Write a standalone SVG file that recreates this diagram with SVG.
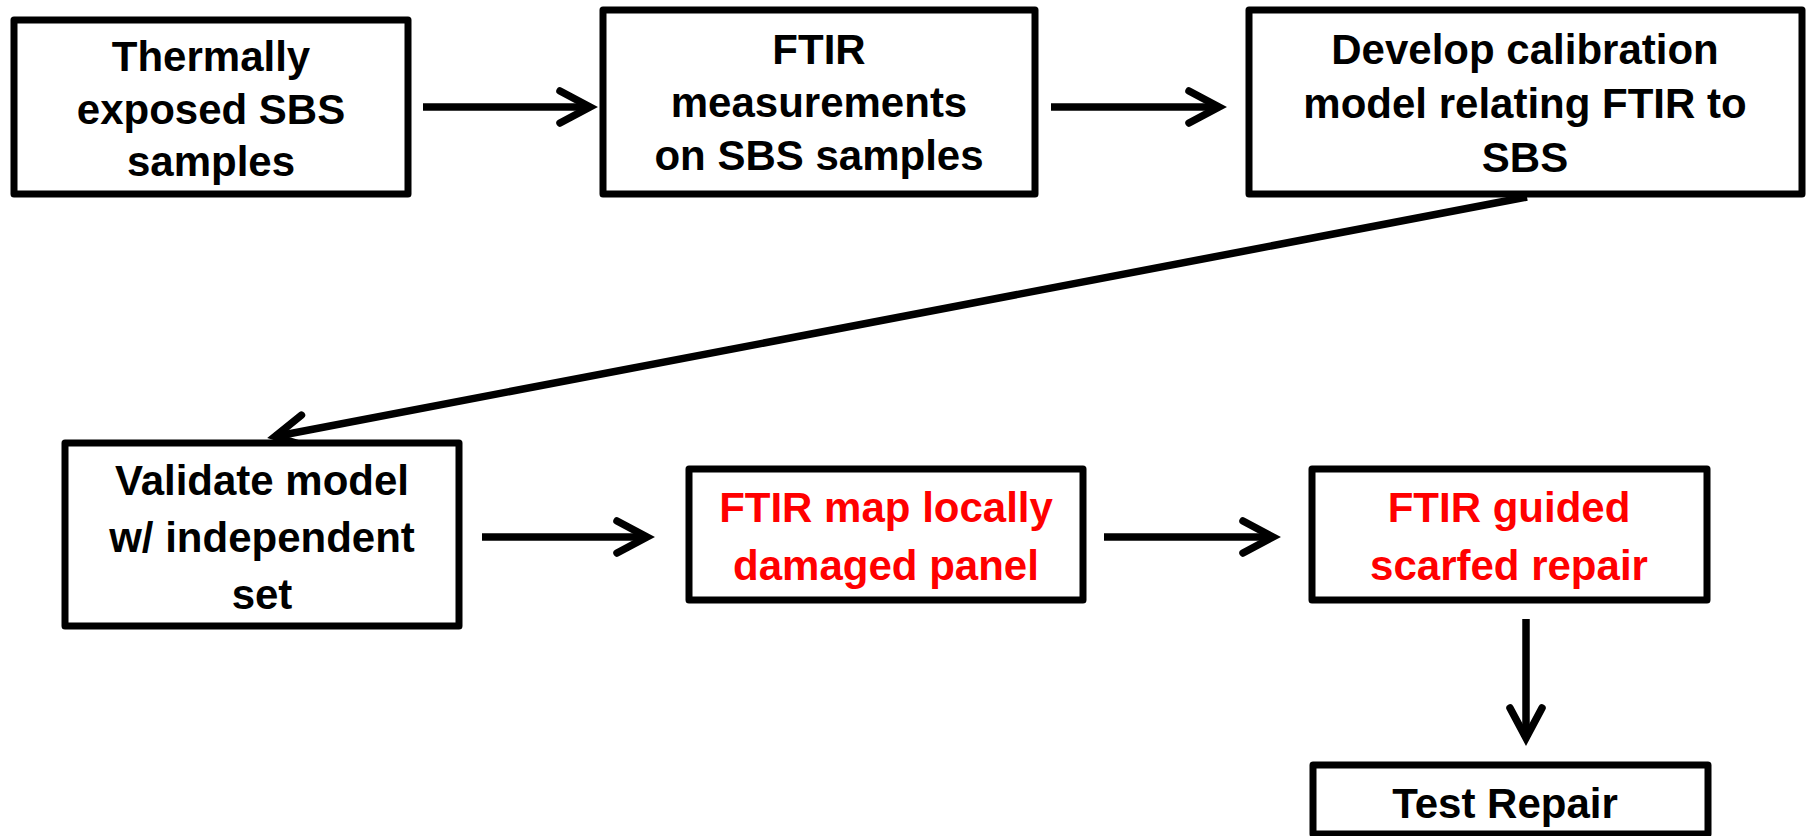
<svg xmlns="http://www.w3.org/2000/svg" width="1806" height="836" viewBox="0 0 1806 836">
<style>
.box{fill:#fff;stroke:#000;stroke-width:7;stroke-linejoin:round}
.t{font-family:"Liberation Sans",Arial,sans-serif;font-weight:bold;font-size:42px;text-anchor:middle;fill:#000}
.red{fill:#ff0000}
.c{stroke:#000;stroke-width:7.5;fill:none}
</style>
<defs>
<marker id="ah" markerUnits="userSpaceOnUse" refX="30" refY="0" markerWidth="60" markerHeight="60" orient="auto" overflow="visible">
<path d="M0,-16 L30,0 L0,16" fill="none" stroke="#000" stroke-width="7.5" stroke-linecap="round" stroke-linejoin="miter"/>
</marker>
</defs>
<rect width="1806" height="836" fill="#fff"/>
<g id="connectors">
<line class="c" x1="423" y1="107" x2="590" y2="107" marker-end="url(#ah)"/>
<line class="c" x1="1051" y1="107" x2="1219" y2="107" marker-end="url(#ah)"/>
<line class="c" x1="1527" y1="197" x2="275" y2="436.5" stroke-width="7" marker-end="url(#ah)"/>
<line class="c" x1="482" y1="537" x2="647" y2="537" marker-end="url(#ah)"/>
<line class="c" x1="1104" y1="537" x2="1273" y2="537" marker-end="url(#ah)"/>
<line class="c" x1="1526" y1="619" x2="1526" y2="738" marker-end="url(#ah)"/>
</g>
<g id="n1">
<rect class="box" x="14" y="20" width="394" height="174"/>
<text class="t" x="211" y="71">Thermally</text>
<text class="t" x="211" y="124">exposed SBS</text>
<text class="t" x="211" y="176">samples</text>
</g>
<g id="n2">
<rect class="box" x="603" y="10" width="432" height="184"/>
<text class="t" x="819" y="64">FTIR</text>
<text class="t" x="819" y="117">measurements</text>
<text class="t" x="819" y="170">on SBS samples</text>
</g>
<g id="n3">
<rect class="box" x="1249" y="10" width="553" height="184"/>
<text class="t" x="1525" y="64">Develop calibration</text>
<text class="t" x="1525" y="118">model relating FTIR to</text>
<text class="t" x="1525" y="172">SBS</text>
</g>
<g id="n4">
<rect class="box" x="65" y="443" width="394" height="183"/>
<text class="t" x="262" y="495">Validate model</text>
<text class="t" x="262" y="552">w/ independent</text>
<text class="t" x="262" y="609">set</text>
</g>
<g id="n5">
<rect class="box" x="689" y="469" width="394" height="131"/>
<text class="t red" x="886" y="522">FTIR map locally</text>
<text class="t red" x="886" y="580">damaged panel</text>
</g>
<g id="n6">
<rect class="box" x="1312" y="469" width="395" height="131"/>
<text class="t red" x="1509" y="522">FTIR guided</text>
<text class="t red" x="1509" y="580">scarfed repair</text>
</g>
<g id="n7">
<rect class="box" x="1313" y="765" width="395" height="69"/>
<text class="t" x="1505" y="818">Test Repair</text>
</g>
</svg>
